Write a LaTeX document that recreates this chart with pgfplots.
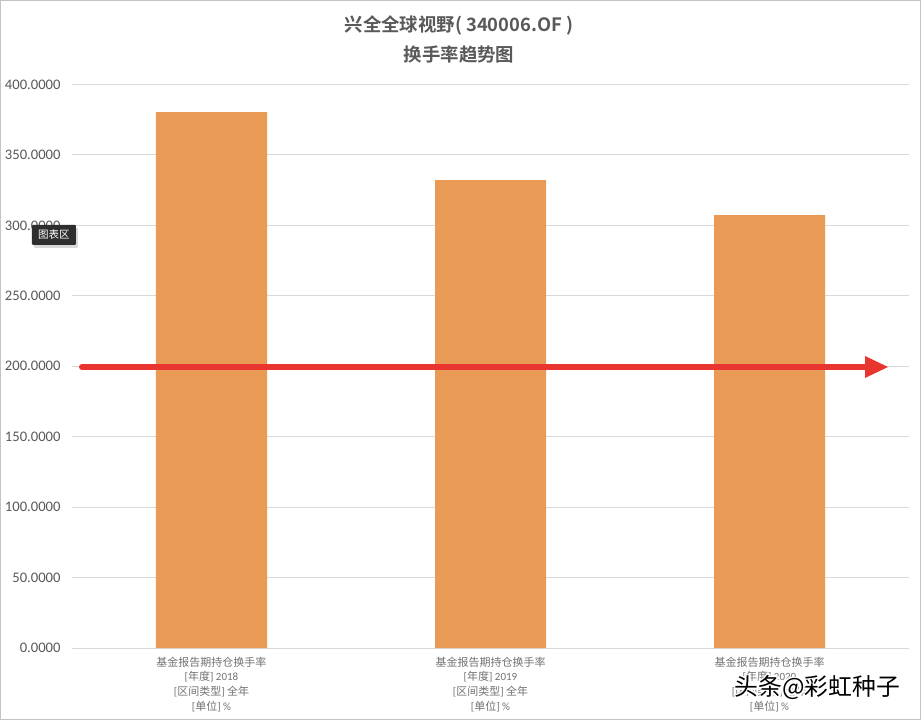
\documentclass[border=0pt]{standalone}
\usepackage{fontspec}
\setmainfont{Carlito}
\newfontfamily\cjk{Noto Sans CJK SC}
\newfontfamily\cjkb{Noto Sans CJK SC Bold}
\usepackage{pgfplots}
\pgfplotsset{compat=1.18}
\usetikzlibrary{arrows.meta,shadows}
\definecolor{txt}{HTML}{595959}
\definecolor{gridc}{HTML}{D9D9D9}
\definecolor{barc}{HTML}{E99A55}
\definecolor{arr}{HTML}{E8352F}
\newcommand{\wm}{\fontsize{23.8}{26}\cjk 头条@彩虹种子}
\newcommand{\xl}[1]{{\cjk 基金报告期持仓换手率}\\{}[{\cjk 年度}] #1\\{}[{\cjk 区间类型}] {\cjk 全年}\\{}[{\cjk 单位}] \%}
\begin{document}
\begin{tikzpicture}[x=1pt,y=1pt]
\path[use as bounding box] (-72,-72) rectangle (849,648);
\fill[white] (-72,-72) rectangle (849,648);
\draw[color=gridc!90!black,line width=1.2pt] (-71.4,-71.4) rectangle (848.6,647.4);
\begin{axis}[
  at={(0pt,0pt)},anchor=south west,
  scale only axis,
  width=837pt,height=563.5pt,
  xmin=-0.5,xmax=2.5,ymin=0,ymax=400,
  ybar,bar width=111pt,
  axis line style={draw=none},
  major tick length=0pt,
  ymajorgrids,
  grid style={gridc,line width=1pt},
  ytick={0,50,100,150,200,250,300,350,400},
  xtick={0,1,2},
  xticklabels={{\xl{2018}},{\xl{2019}},{\xl{2020}}},
  xticklabel style={align=center,font=\fontsize{11}{14.6}\selectfont,text=txt!85!white,yshift=-5.5pt},
  yticklabel style={font=\fontsize{14.6}{16}\selectfont,text=txt,xshift=-8pt,
    /pgf/number format/.cd,fixed,fixed zerofill,precision=4,assume math mode=true,1000 sep={}},
  clip=false,
  axis on top=false,
]
\addplot[fill=barc,draw=none,bar shift=0pt] coordinates {(0,380.4) (1,332.2) (2,307.3)};
\end{axis}
\node[text=txt,font=\fontsize{18.4}{22}\cjkb,inner sep=0] at (387,623) {兴全全球视野( 340006.OF )};
\node[text=txt,font=\fontsize{18.4}{22}\cjkb,inner sep=0] at (387,593) {换手率趋势图};
\draw[arr,line width=6pt,line cap=round] (10,281) -- (795,281);
\fill[arr] (793,292) -- (816,281) -- (793,270) -- cycle;
\node[fill=black!82,text=white,rounded corners=1pt,minimum width=44pt,minimum height=20pt,inner sep=0,
  font=\fontsize{10.5}{12}\cjk,drop shadow={opacity=0.3,shadow xshift=2pt,shadow yshift=-3pt}] at (-18,413) {图表区};
\foreach \dx in {-1.5,0,1.5}\foreach \dy in {-1.5,0,1.5}{
  \node[text=white,inner sep=0] at (745.5+\dx,-40+\dy) {\wm};}
\node[text=black,inner sep=0] at (745.5,-40) {\wm};
\end{tikzpicture}
\end{document}
